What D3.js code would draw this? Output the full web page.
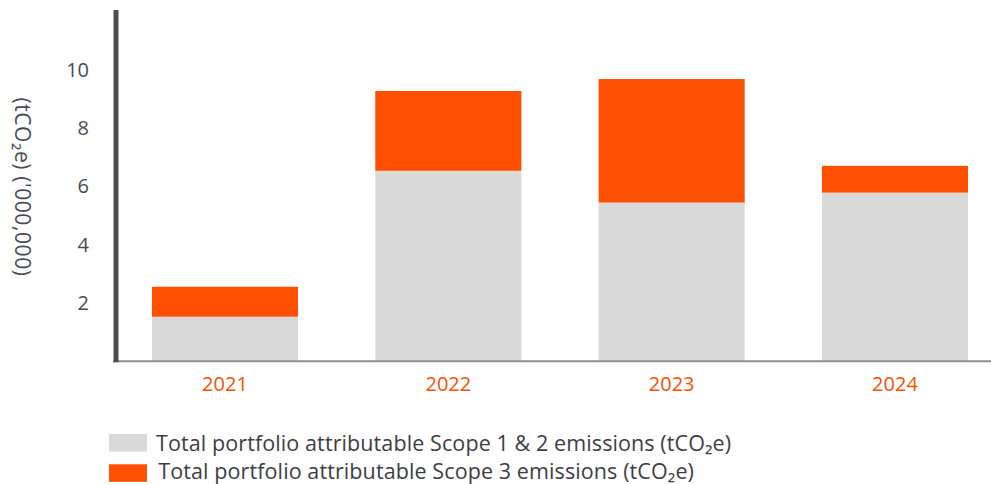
<!DOCTYPE html>
<html>
<head>
<meta charset="utf-8">
<script src="https://cdn.jsdelivr.net/npm/d3@7"></script>
<style>
  body { margin: 0; background: #fff; }
  text { font-family: "Open Sans", sans-serif; }
</style>
</head>
<body>
<div id="chart"></div>
<script>
// chart data
const years = ["2021", "2022", "2023", "2024"];
const scope12 = [1.53, 6.54, 5.45, 5.79];
const scope3 = [1.03, 2.74, 4.24, 0.92];
const yTicks = [2, 4, 6, 8, 10];
const legendLabels = [
  "Total portfolio attributable Scope 1 & 2 emissions (tCO\u2082e)",
  "Total portfolio attributable Scope 3 emissions (tCO\u2082e)"
];
const colors = ["#d9d9d9", "#fe5000"];

const W = 991, H = 484;
const margin = {top: 10, left: 116, right: 0, baseline: 361.3};
const fontFam = "'Open Sans', sans-serif";

const svg = d3.select("#chart").append("svg")
  .attr("width", W).attr("height", H);

const x = d3.scaleBand()
  .domain(years)
  .range([margin.left, W])
  .paddingInner(0.346)
  .paddingOuter(0.132)
  .align(0.61);

const y = d3.scaleLinear()
  .domain([0, 12.06])
  .range([margin.baseline, margin.top]);

// stack the two series
const rows = years.map((yr, i) => ({year: yr, s12: scope12[i], s3: scope3[i]}));
const stacked = d3.stack().keys(["s12", "s3"])(rows);

svg.selectAll("g.layer")
  .data(stacked)
  .enter().append("g")
  .attr("class", "layer")
  .attr("fill", (d, i) => colors[i])
  .selectAll("rect")
  .data(d => d)
  .enter().append("rect")
  .attr("x", d => x(d.data.year))
  .attr("width", x.bandwidth())
  .attr("y", d => y(d[1]))
  .attr("height", d => y(d[0]) - y(d[1]));

// baseline
svg.append("line")
  .attr("x1", margin.left - 3).attr("x2", W)
  .attr("y1", margin.baseline).attr("y2", margin.baseline)
  .attr("stroke", "#8b8e92").attr("stroke-width", 2);

// y axis (thick bar, no ticks)
const yAxis = svg.append("g")
  .attr("transform", "translate(" + margin.left + ",0)")
  .call(d3.axisLeft(y).tickValues(yTicks).tickSize(0).tickPadding(27).tickFormat(d3.format("d")));
yAxis.select(".domain")
  .attr("d", "M0," + margin.top + "V" + (margin.baseline + 1))
  .attr("stroke", "#4b4f54").attr("stroke-width", 5);
yAxis.selectAll("text")
  .attr("fill", "#4a4a52")
  .style("font-size", "20px")
  .style("font-family", fontFam);

// x axis labels
const xAxis = svg.append("g")
  .attr("transform", "translate(0," + margin.baseline + ")")
  .call(d3.axisBottom(x).tickSize(0).tickPadding(16));
xAxis.select(".domain").remove();
xAxis.selectAll("text")
  .attr("fill", "#fe5000")
  .style("font-size", "20px")
  .style("font-family", fontFam);

// y axis title
svg.append("text")
  .attr("transform", "translate(15,187) rotate(90)")
  .attr("text-anchor", "middle")
  .attr("fill", "#4a4a52")
  .style("font-size", "21px")
  .style("letter-spacing", "0.6px")
  .text("(tCO\u2082e) ('000,000)");

// legend
const legend = svg.append("g");
legendLabels.forEach((lab, i) => {
  const ly = 434 + i * 30.3;
  legend.append("rect")
    .attr("x", 109).attr("y", ly)
    .attr("width", 38).attr("height", 17.5)
    .attr("fill", colors[i]);
  legend.append("text")
    .attr("x", 156 + i * 2.3).attr("y", ly + 16.5 - i * 1.5)
    .attr("fill", "#3d3d45")
    .style("font-size", "21.5px")
    .style("letter-spacing", "0.1px")
    .text(lab);
});
</script>
</body>
</html>
